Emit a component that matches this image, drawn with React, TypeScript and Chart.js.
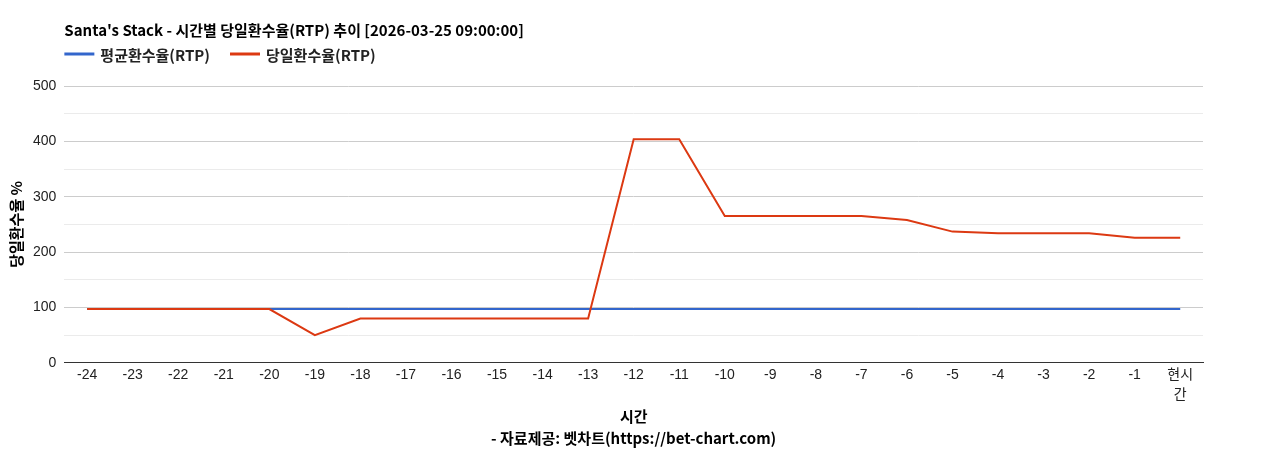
import { useEffect, useRef } from 'react';
import { Chart, registerables } from 'chart.js';

Chart.register(...registerables);

const TITLE = "Santa's Stack - 시간별 당일환수율(RTP) 추이 [2026-03-25 09:00:00]";
const HOURS: (string | string[])[] = [
  '-24', '-23', '-22', '-21', '-20', '-19', '-18', '-17', '-16', '-15', '-14', '-13',
  '-12', '-11', '-10', '-9', '-8', '-7', '-6', '-5', '-4', '-3', '-2', '-1', ['현시', '간'],
];
const AVG_RTP = [97, 97, 97, 97, 97, 97, 97, 97, 97, 97, 97, 97, 97, 97, 97, 97, 97, 97, 97, 97, 97, 97, 97, 97, 97];
const DAILY_RTP = [97, 97, 97, 97, 97, 50, 80, 80, 80, 80, 80, 80, 404, 404, 265, 265, 265, 265, 258, 237, 234, 234, 234, 226, 226];
const Y_TITLE = '당일환수율 %';
const X_TITLE = ['시간', '- 자료제공: 벳차트(https://bet-chart.com)'];

const FONT = "Arial, 'Liberation Sans', 'Noto Sans CJK KR', sans-serif";
const BOLD_FONT = "'Noto Sans CJK KR', 'Noto Sans', sans-serif";

// title + legend drawn at the chart area's left edge, like the original
const headerPlugin = {
  id: 'header',
  afterDraw(chart: Chart) {
    const { ctx, chartArea } = chart;
    ctx.save();
    ctx.font = `bold 15px ${BOLD_FONT}`;
    ctx.fillStyle = '#000';
    ctx.textBaseline = 'middle';
    ctx.textAlign = 'left';
    ctx.fillText(TITLE, chartArea.left, 30);

    let x = chartArea.left;
    const y = 54;
    chart.data.datasets.forEach((ds: any) => {
      ctx.strokeStyle = ds.borderColor;
      ctx.lineWidth = 3;
      ctx.beginPath();
      ctx.moveTo(x, y);
      ctx.lineTo(x + 30, y);
      ctx.stroke();
      ctx.fillStyle = '#222';
      ctx.fillText(ds.label, x + 36, y + 1);
      x += 36 + ctx.measureText(ds.label).width + 20;
    });
    ctx.restore();
  },
};

export default function App() {
  const ref = useRef<HTMLCanvasElement>(null);
  const chartRef = useRef<Chart | null>(null);

  useEffect(() => {
    document.body.style.margin = '0';
    if (!ref.current) return;
    const ctx = ref.current.getContext('2d');
    if (!ctx) return;
    chartRef.current = new Chart(ctx, {
      type: 'line',
      data: {
        labels: HOURS,
        datasets: [
          {
            label: '평균환수율(RTP)',
            data: AVG_RTP,
            borderColor: '#3366CC',
            borderWidth: 2,
            pointRadius: 0,
            order: 1,
          },
          {
            label: '당일환수율(RTP)',
            data: DAILY_RTP,
            borderColor: '#DC3912',
            borderWidth: 2,
            pointRadius: 0,
            order: 0,
          },
        ],
      },
      plugins: [headerPlugin],
      options: {
        animation: false,
        responsive: false,
        layout: { padding: { top: 86, right: 65, bottom: 0, left: 7 } },
        plugins: {
          legend: { display: false },
          tooltip: { enabled: false },
        },
        scales: {
          x: {
            offset: true,
            grid: { display: false, drawTicks: false },
            border: { display: true, color: '#333', width: 1 },
            ticks: {
              padding: 3,
              color: '#222',
              autoSkip: false,
              maxRotation: 0,
              font: { family: FONT, size: 14, lineHeight: 1.4 },
            },
            title: {
              display: true,
              text: X_TITLE,
              color: '#000',
              padding: { top: -3, bottom: 0 },
              font: { family: BOLD_FONT, size: 15, weight: 'bold', lineHeight: 1.5 },
            },
          },
          y: {
            min: 0,
            max: 500,
            border: { display: false },
            grid: {
              drawTicks: false,
              color: (c: any) => (c.tick && c.tick.value % 100 === 0 ? '#cccccc' : '#ebebeb'),
            },
            ticks: {
              stepSize: 50,
              padding: 8,
              color: '#222',
              font: { family: FONT, size: 14 },
              callback: (v: any) => (Number(v) % 100 === 0 ? String(v) : ''),
            },
            title: {
              display: true,
              text: Y_TITLE,
              color: '#000',
              padding: { top: 0, bottom: 0 },
              font: { family: BOLD_FONT, size: 15, weight: 'bold' },
            },
          },
        },
      },
    });
    return () => {
      chartRef.current?.destroy();
      chartRef.current = null;
    };
  }, []);

  return (
    <div style={{ width: 1268, height: 450, background: '#fff' }}>
      <canvas ref={ref} width={1268} height={450} />
    </div>
  );
}
